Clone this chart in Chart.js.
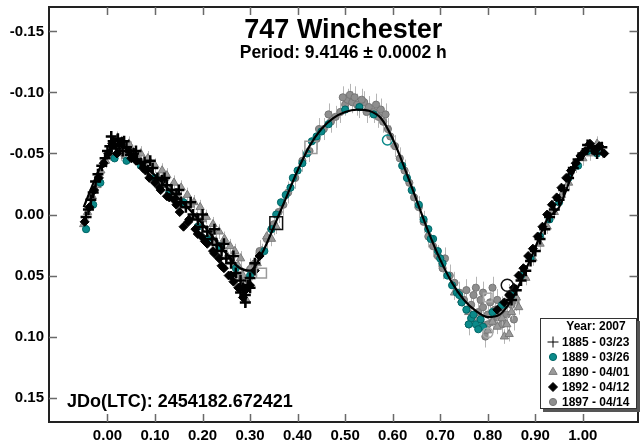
<!DOCTYPE html>
<html>
<head>
<meta charset="utf-8">
<script src="https://cdn.jsdelivr.net/npm/chart.js@4.4.1/dist/chart.umd.min.js"></script>
<style>
  html, body { margin: 0; padding: 0; background: #fff; overflow: hidden; width: 642px; height: 444px; }
  #wrap { position: absolute; left: 0; top: -14px; }
</style>
</head>
<body>
<div id="wrap"><canvas id="c" width="648" height="458"></canvas></div>
<script>
// Faixas dos eixos (fase e magnitude)
const X_MIN = -0.123, X_MAX = 1.115;
const Y_MIN = -0.17, Y_MAX = 0.17;

const TITLE = "747 Winchester";
const SUBTITLE = "Period: 9.4146 \u00b1 0.0002 h";
const JDO = "JDo(LTC): 2454182.672421";
const LEGEND_TITLE = "Year: 2007";
const SESSIONS = ["1885 - 03/23", "1889 - 03/26", "1890 - 04/01", "1892 - 04/12", "1897 - 04/14"];

// Curva ajustada (Fourier)
const FIT_X = [-0.05, -0.025, 0.0, 0.025, 0.05, 0.075, 0.1, 0.125, 0.15, 0.175, 0.2, 0.225, 0.25, 0.275,
  0.3, 0.325, 0.35, 0.375, 0.4, 0.425, 0.45, 0.475, 0.5, 0.525, 0.55, 0.575, 0.6, 0.625, 0.65, 0.675,
  0.7, 0.725, 0.75, 0.775, 0.8, 0.825, 0.85, 0.875, 0.9, 0.925, 0.95, 0.975, 1.0, 1.025, 1.05];
const FIT_Y = [-0.006, -0.030, -0.050, -0.056, -0.050, -0.041, -0.032, -0.022, -0.013, -0.003, 0.008, 0.020, 0.032, 0.043,
  0.046, 0.032, 0.010, -0.013, -0.036, -0.056, -0.070, -0.079, -0.084, -0.086, -0.085, -0.079, -0.062, -0.038, -0.012, 0.014,
  0.037, 0.056, 0.070, 0.079, 0.084, 0.082, 0.070, 0.050, 0.027, 0.004, -0.006, -0.030, -0.050, -0.056, -0.050];

// Sessões: [fase, magnitude reduzida]
const S1885 = [[-0.045, 0.002], [-0.04, -0.004], [-0.035, -0.012], [-0.03, -0.018], [-0.025, -0.027], [-0.02, -0.033],
  [-0.012, -0.04], [-0.005, -0.046], [0.0, -0.052], [0.005, -0.056], [0.012, -0.06], [0.018, -0.054], [0.025, -0.057],
  [0.032, -0.052], [0.04, -0.055], [0.048, -0.049], [0.055, -0.05], [0.062, -0.045], [0.07, -0.042], [0.078, -0.043],
  [0.085, -0.036], [0.095, -0.038], [0.105, -0.03], [0.115, -0.028], [0.125, -0.024], [0.135, -0.02], [0.145, -0.017],
  [0.155, -0.01], [0.165, -0.006], [0.18, 0.0], [0.19, 0.004], [0.2, 0.01], [0.21, 0.014], [0.22, 0.02], [0.23, 0.025],
  [0.24, 0.03], [0.25, 0.036], [0.26, 0.04], [0.27, 0.048], [0.28, 0.054], [0.285, 0.06], [0.29, 0.066], [0.295, 0.058],
  [0.3, 0.052], [0.31, 0.04],
  [0.008, -0.064], [0.022, -0.062], [0.035, -0.06], [0.06, -0.052], [0.09, -0.044], [0.12, -0.03], [0.15, -0.02],
  [0.175, -0.01], [0.2, 0.0], [0.225, 0.012], [0.245, 0.024], [0.265, 0.034], [0.28, 0.064], [0.29, 0.072], [0.3, 0.06],
  [0.85, 0.07], [0.86, 0.062], [0.87, 0.054], [0.88, 0.046], [0.89, 0.038], [0.9, 0.03], [0.91, 0.02], [0.92, 0.012],
  [0.93, 0.002], [0.94, -0.004], [0.95, -0.012], [0.96, -0.02], [0.97, -0.03], [0.98, -0.038], [0.99, -0.045],
  [1.0, -0.05], [1.01, -0.057], [1.02, -0.054], [1.03, -0.05], [1.04, -0.055]];

const S1889 = [[-0.045, 0.012], [-0.03, -0.008], [-0.015, -0.026], [0.015, -0.046], [0.04, -0.044], [0.07, -0.04],
  [0.1, -0.03], [0.13, -0.018], [0.16, -0.01], [0.19, 0.01], [0.21, 0.02], [0.235, 0.026], [0.27, 0.044], [0.3, 0.05],
  [0.33, 0.03], [0.345, 0.012], [0.355, 0.0], [0.365, -0.01], [0.375, -0.016], [0.385, -0.022], [0.39, -0.03],
  [0.4, -0.036], [0.41, -0.042], [0.42, -0.05], [0.43, -0.06], [0.44, -0.064], [0.45, -0.068], [0.465, -0.074],
  [0.5, -0.086], [0.53, -0.088], [0.56, -0.082],
  [0.62, -0.04], [0.63, -0.03], [0.64, -0.02], [0.655, -0.008], [0.665, 0.004], [0.675, 0.012], [0.685, 0.02],
  [0.695, 0.03], [0.705, 0.04], [0.715, 0.05], [0.725, 0.058], [0.735, 0.064], [0.745, 0.072], [0.755, 0.078],
  [0.765, 0.085], [0.775, 0.09], [0.785, 0.086], [0.79, 0.092], [0.81, 0.08], [0.83, 0.074], [0.85, 0.066],
  [0.68, 0.02], [0.7, 0.036], [0.74, 0.066], [0.77, 0.082], [0.78, 0.094], [0.76, 0.09],
  [0.87, 0.05], [0.89, 0.036], [0.91, 0.018], [0.93, 0.004], [0.95, -0.01], [0.97, -0.03], [0.99, -0.04],
  [1.01, -0.052], [1.03, -0.05]];

const S1890 = [[-0.05, 0.008], [-0.042, -0.002], [-0.032, -0.015], [-0.022, -0.024], [-0.014, -0.036], [-0.004, -0.044],
  [0.006, -0.05], [0.016, -0.058], [0.028, -0.05], [0.038, -0.048], [0.05, -0.054], [0.065, -0.046], [0.08, -0.04],
  [0.092, -0.034], [0.108, -0.03], [0.12, -0.03], [0.132, -0.02], [0.148, -0.016], [0.16, -0.01], [0.175, -0.008],
  [0.188, 0.002], [0.2, 0.004], [0.215, 0.016], [0.228, 0.022], [0.24, 0.026], [0.252, 0.034], [0.262, 0.038],
  [0.275, 0.042], [0.285, 0.05], [0.295, 0.056], [0.305, 0.048], [0.315, 0.04], [0.325, 0.03], [0.335, 0.018],
  [0.345, 0.02], [0.355, 0.01],
  [0.02, -0.062], [0.045, -0.058], [0.07, -0.05], [0.085, -0.046], [0.1, -0.04], [0.115, -0.036], [0.125, -0.032],
  [0.14, -0.026], [0.155, -0.022], [0.168, -0.016], [0.182, -0.01], [0.195, -0.006], [0.208, 0.002], [0.222, 0.008],
  [0.235, 0.014], [0.246, 0.02], [0.258, 0.026], [0.268, 0.03], [0.28, 0.036], [0.292, 0.07], [0.3, 0.044],
  [0.73, 0.064], [0.745, 0.07], [0.76, 0.08], [0.775, 0.086], [0.79, 0.09], [0.8, 0.095], [0.81, 0.088],
  [0.82, 0.092], [0.83, 0.085], [0.835, 0.1], [0.84, 0.09], [0.845, 0.098], [0.85, 0.08], [0.86, 0.068], [0.865, 0.076],
  [0.88, 0.052], [0.895, 0.036], [0.91, 0.024], [0.925, 0.01], [0.94, -0.002], [0.955, -0.016], [0.97, -0.026],
  [0.985, -0.04], [1.0, -0.046], [1.015, -0.05], [1.03, -0.058], [1.04, -0.052]];

const S1892 = [[-0.048, 0.006], [-0.038, -0.006], [-0.028, -0.02], [-0.018, -0.03], [-0.008, -0.042], [0.002, -0.05],
  [0.01, -0.058], [0.02, -0.05], [0.03, -0.06], [0.045, -0.052], [0.06, -0.044], [0.075, -0.038], [0.088, -0.03],
  [0.1, -0.026], [0.112, -0.02], [0.125, -0.015], [0.14, -0.012], [0.152, -0.002], [0.16, 0.01], [0.172, 0.004],
  [0.185, 0.012], [0.198, 0.018], [0.21, 0.024], [0.222, 0.03], [0.235, 0.036], [0.245, 0.044], [0.255, 0.05],
  [0.265, 0.055], [0.278, 0.06], [0.29, 0.062], [0.3, 0.058], [0.31, 0.046], [0.32, 0.034],
  [0.05, -0.046], [0.08, -0.036], [0.11, -0.022], [0.13, -0.014], [0.145, -0.008], [0.17, 0.006], [0.19, 0.016],
  [0.205, 0.022], [0.225, 0.032], [0.24, 0.042], [0.26, 0.05], [0.275, 0.06], [0.285, 0.068],
  [0.82, 0.078], [0.835, 0.072], [0.845, 0.066], [0.855, 0.06], [0.865, 0.05], [0.875, 0.044], [0.885, 0.034],
  [0.895, 0.028], [0.905, 0.018], [0.915, 0.01], [0.925, 0.0], [0.935, -0.008], [0.945, -0.014], [0.955, -0.022],
  [0.965, -0.03], [0.975, -0.036], [0.985, -0.042], [0.995, -0.048], [1.005, -0.052], [1.015, -0.058],
  [1.025, -0.052], [1.035, -0.056], [1.045, -0.05]];

const S1897 = [[0.28, 0.05], [0.3, 0.045], [0.31, 0.04], [0.32, 0.03], [0.335, 0.02], [0.35, 0.008], [0.36, -0.002],
  [0.37, -0.008], [0.38, -0.018], [0.395, -0.03], [0.41, -0.044], [0.425, -0.052], [0.44, -0.062], [0.455, -0.07],
  [0.47, -0.076], [0.48, -0.08], [0.49, -0.084], [0.5, -0.09], [0.505, -0.094], [0.51, -0.098], [0.515, -0.092],
  [0.52, -0.096], [0.525, -0.09], [0.53, -0.088], [0.54, -0.092], [0.545, -0.084], [0.55, -0.088], [0.56, -0.084],
  [0.57, -0.08], [0.575, -0.086], [0.58, -0.076], [0.59, -0.07], [0.595, -0.064], [0.605, -0.056], [0.615, -0.046],
  [0.625, -0.036], [0.635, -0.026], [0.645, -0.014], [0.655, -0.006], [0.665, 0.006], [0.675, 0.018], [0.685, 0.026],
  [0.695, 0.034], [0.705, 0.044], [0.71, 0.036], [0.72, 0.05], [0.73, 0.056], [0.74, 0.064], [0.75, 0.07],
  [0.755, 0.062], [0.765, 0.074], [0.77, 0.066], [0.78, 0.08], [0.785, 0.07], [0.79, 0.076], [0.8, 0.082],
  [0.805, 0.072], [0.81, 0.088], [0.815, 0.078], [0.82, 0.084], [0.83, 0.076], [0.84, 0.082], [0.85, 0.074], [0.86, 0.07],
  [0.445, -0.07], [0.465, -0.082], [0.495, -0.096], [0.535, -0.094], [0.565, -0.09], [0.585, -0.082],
  [0.76, 0.09], [0.775, 0.06], [0.79, 0.064], [0.8, 0.09], [0.81, 0.06], [0.82, 0.07], [0.83, 0.09], [0.845, 0.066],
  [0.855, 0.086], [0.795, 0.1]];

// Marcadores vazados (primeiro ponto de cada sessão)
const FIRST_PTS = [[0.355, 0.007], [0.428, -0.055], [0.324, 0.048], [0.589, -0.061], [0.841, 0.058], [0.80, 0.097], [0.80, 0.068]];

// Erro típico por sessão (barras verticais)
const ERR_1890 = 0.006;
const ERR_1897 = 0.009;

const FONT = "'Liberation Sans', Arial, sans-serif";
const TEAL = "#0b8a8a";
const toXY = (arr) => arr.map(([x, y]) => ({ x, y }));
const fmt = (v) => (Math.abs(v) < 1e-9 ? 0 : v).toFixed(2);
const keepUnit = (scale) => {
  scale.ticks = scale.ticks.filter((t) => t.value > -0.001 && t.value < 1.001);
};

const errorBars = {
  id: "errorBars",
  beforeDatasetDraw(chart, args) {
    const ds = chart.data.datasets[args.index];
    if (!ds.errorBar) return;
    const { ctx } = chart;
    const ys = chart.scales.y;
    const pts = args.meta.data;
    ctx.save();
    ctx.strokeStyle = "#b5b5b5";
    ctx.lineWidth = 1;
    ctx.beginPath();
    ds.data.forEach((p, i) => {
      const x = Math.round(pts[i].x) + 0.5;
      ctx.moveTo(x, ys.getPixelForValue(p.y - ds.errorBar));
      ctx.lineTo(x, ys.getPixelForValue(p.y + ds.errorBar));
    });
    ctx.stroke();
    ctx.restore();
  },
};

const inwardTicks = {
  id: "inwardTicks",
  afterDraw(chart) {
    const { ctx, chartArea: a, scales } = chart;
    const L = 8;
    ctx.save();
    ctx.strokeStyle = "#6a6a6a";
    ctx.lineWidth = 1.5;
    ctx.beginPath();
    scales.x.ticks.forEach((t) => {
      const px = Math.round(scales.x.getPixelForValue(t.value)) + 0.5;
      ctx.moveTo(px, a.bottom); ctx.lineTo(px, a.bottom - L);
      ctx.moveTo(px, a.top); ctx.lineTo(px, a.top + L);
    });
    scales.y.ticks.forEach((t) => {
      const py = Math.round(scales.y.getPixelForValue(t.value)) + 0.5;
      ctx.moveTo(a.left, py); ctx.lineTo(a.left + L, py);
      ctx.moveTo(a.right, py); ctx.lineTo(a.right - L, py);
    });
    ctx.stroke();
    ctx.restore();
  },
};

const labels = {
  id: "labels",
  afterDraw(chart) {
    const { ctx, chartArea: a } = chart;
    const cx = (a.left + a.right) / 2;
    ctx.save();
    ctx.fillStyle = "#000";
    ctx.textAlign = "center";
    ctx.textBaseline = "alphabetic";
    ctx.font = "bold 27px " + FONT;
    ctx.fillText(TITLE, cx, a.top + 31);
    ctx.font = "bold 17.5px " + FONT;
    ctx.fillText(SUBTITLE, cx, a.top + 51);
    ctx.textAlign = "left";
    ctx.font = "bold 18px " + FONT;
    ctx.fillText(JDO, a.left + 18, a.bottom - 15);

    // Legenda com sombra
    const bx = 540, by = 332, bw = 97, bh = 91;
    ctx.fillStyle = "#555";
    ctx.fillRect(bx + 3, by + 3, bw, bh);
    ctx.fillStyle = "#fff";
    ctx.fillRect(bx, by, bw, bh);
    ctx.strokeStyle = "#333";
    ctx.lineWidth = 1;
    ctx.strokeRect(bx + 0.5, by + 0.5, bw - 1, bh - 1);
    ctx.fillStyle = "#000";
    ctx.font = "bold 12px " + FONT;
    ctx.textBaseline = "middle";
    ctx.textAlign = "center";
    ctx.fillText(LEGEND_TITLE, bx + 56, by + 9);
    ctx.textAlign = "left";
    SESSIONS.forEach((name, i) => {
      const ds = chart.data.datasets.find((d) => d.label === name);
      const y = by + 24 + i * 15;
      ctx.fillStyle = ds.pointBackgroundColor;
      ctx.strokeStyle = ds.pointBorderColor;
      Chart.helpers.drawPoint(ctx, {
        pointStyle: ds.pointStyle, radius: ds.pointRadius, borderWidth: ds.pointBorderWidth, rotation: 0,
      }, bx + 13, y);
      ctx.fillStyle = "#000";
      ctx.fillText(name, bx + 22, y + 1);
    });
    ctx.restore();
  },
};

const scatter = (label, data, style, r, bg, border, bw, order, extra) => Object.assign({
  type: "scatter", label, data: toXY(data), pointStyle: style, pointRadius: r,
  pointBackgroundColor: bg, pointBorderColor: border, pointBorderWidth: bw, order,
}, extra || {});

const axisBase = (pos, min, max, step, fit, showTicks) => ({
  type: "linear", position: pos, min, max, afterFit: fit,
  grid: { display: false, drawTicks: false },
  border: { display: true, color: "#222", width: 2 },
  ticks: {
    display: showTicks, stepSize: step, includeBounds: false, padding: 5, color: "#000",
    font: { family: FONT, size: 15, weight: "bold" }, callback: fmt,
  },
});

const xAxis = axisBase("bottom", X_MIN, X_MAX, 0.1, (s) => { s.height = 22; }, true);
xAxis.afterBuildTicks = keepUnit;
const x2Axis = axisBase("top", X_MIN, X_MAX, 0.1, (s) => { s.height = 21; }, true);
x2Axis.afterBuildTicks = keepUnit;
x2Axis.ticks.padding = 2;
const yAxis = axisBase("left", Y_MIN, Y_MAX, 0.05, (s) => { s.width = 49; }, true);
yAxis.reverse = true;
const yrAxis = axisBase("right", Y_MIN, Y_MAX, 0.05, (s) => { s.width = 2; }, false);
yrAxis.reverse = true;

new Chart(document.getElementById("c"), {
  data: {
    datasets: [
      {
        type: "line", label: "fit", data: FIT_X.map((x, i) => ({ x, y: FIT_Y[i] })),
        borderColor: "#000", borderWidth: 2.2, pointRadius: 0, cubicInterpolationMode: "monotone", order: 0,
      },
      {
        type: "scatter", label: "first", data: toXY(FIRST_PTS), order: 1,
        pointStyle: ["rect", "rect", "rect", "circle", "circle", "circle", "rect"],
        pointRadius: [9, 8.5, 7, 5, 6, 5, 6],
        pointBackgroundColor: "rgba(0,0,0,0)",
        pointBorderColor: ["#111", "#9a9a9a", "#9a9a9a", TEAL, "#111", "#aaa", "#aaa"],
        pointBorderWidth: 1.5,
      },
      scatter(SESSIONS[0], S1885, "cross", 5.5, "#000", "#000", 2.5, 2),
      scatter(SESSIONS[3], S1892, "rectRot", 4.5, "#000", "#000", 1, 3),
      scatter(SESSIONS[1], S1889, "circle", 3.6, TEAL, "#066", 1, 4),
      scatter(SESSIONS[2], S1890, "triangle", 4.8, "#9a9a9a", "#7a7a7a", 1, 5, { errorBar: ERR_1890 }),
      scatter(SESSIONS[4], S1897, "circle", 3.6, "#8e8e8e", "#767676", 1, 6, { errorBar: ERR_1897 }),
    ],
  },
  options: {
    responsive: false,
    animation: false,
    events: [],
    layout: { padding: 0 },
    plugins: { legend: { display: false }, tooltip: { enabled: false }, title: { display: false } },
    scales: { x: xAxis, x2: x2Axis, y: yAxis, yr: yrAxis },
  },
  plugins: [errorBars, inwardTicks, labels],
});
</script>
</body>
</html>
